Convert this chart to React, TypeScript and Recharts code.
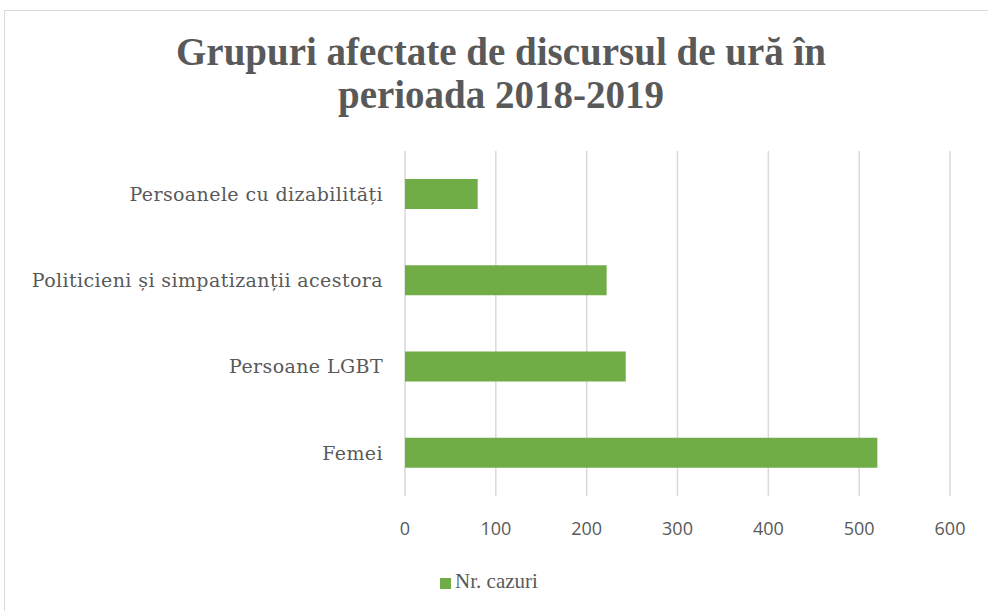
import { BarChart, Bar, XAxis, YAxis, CartesianGrid, Legend } from 'recharts';

const categories = [
    'Persoanele cu dizabilități',
    'Politicieni și simpatizanții acestora',
    'Persoane LGBT',
    'Femei'
];
const cazuri = [80, 222, 243, 520];
const xTicks = [0, 100, 200, 300, 400, 500, 600];

const data = categories.map((name, i) => ({ name, cazuri: cazuri[i] }));

const GREEN = '#70ad47';
const TEXT = '#595959';
const SERIF = '"Liberation Serif", "DejaVu Serif", serif';

export default function App() {
    return (
        <div style={{ position: 'absolute', left: 0, top: 0, width: 988, height: 611, background: '#fff' }}>
            {/* frame (cropped at the right and bottom) */}
            <div
                style={{
                    position: 'absolute',
                    left: 4,
                    top: 10,
                    width: 990,
                    height: 610,
                    borderTop: '1.5px solid #d9d9d9',
                    borderLeft: '1.5px solid #d9d9d9'
                }}
            />
            <div
                style={{
                    position: 'absolute',
                    left: 0,
                    top: 30,
                    width: 1002,
                    textAlign: 'center',
                    fontFamily: SERIF,
                    fontWeight: 'bold',
                    fontSize: 39,
                    lineHeight: '43px',
                    color: TEXT
                }}
            >
                Grupuri afectate de discursul de ură în
                <br />
                perioada 2018-2019
            </div>
            <BarChart
                width={988}
                height={611}
                data={data}
                layout="vertical"
                barSize={30}
                margin={{ top: 151, right: 38, bottom: 50, left: 0 }}
                style={{ position: 'absolute', left: 0, top: 0 }}
            >
                <CartesianGrid horizontal={false} stroke="#d9d9d9" strokeWidth={1.5} />
                <XAxis
                    type="number"
                    domain={[0, 600]}
                    ticks={xTicks}
                    axisLine={false}
                    tickLine={false}
                    tickSize={0}
                    tickMargin={26}
                    height={40}
                    tick={{ fill: TEXT, fontSize: 18, fontFamily: '"Open Sans", sans-serif' }}
                />
                <YAxis
                    type="category"
                    dataKey="name"
                    width={405}
                    axisLine={false}
                    tickLine={false}
                    tickSize={0}
                    tickMargin={22}
                    tick={{ fill: TEXT, fontSize: 19, fontFamily: '"DejaVu Serif", serif', letterSpacing: 0.4 }}
                />
                <Legend
                    verticalAlign="bottom"
                    iconType="square"
                    iconSize={11}
                    wrapperStyle={{ top: 569, left: 0, width: 988, fontFamily: SERIF, fontSize: 21 }}
                    formatter={(value) => <span style={{ color: TEXT }}>{value}</span>}
                />
                <Bar dataKey="cazuri" name="Nr. cazuri" fill={GREEN} isAnimationActive={false} />
            </BarChart>
        </div>
    );
}
